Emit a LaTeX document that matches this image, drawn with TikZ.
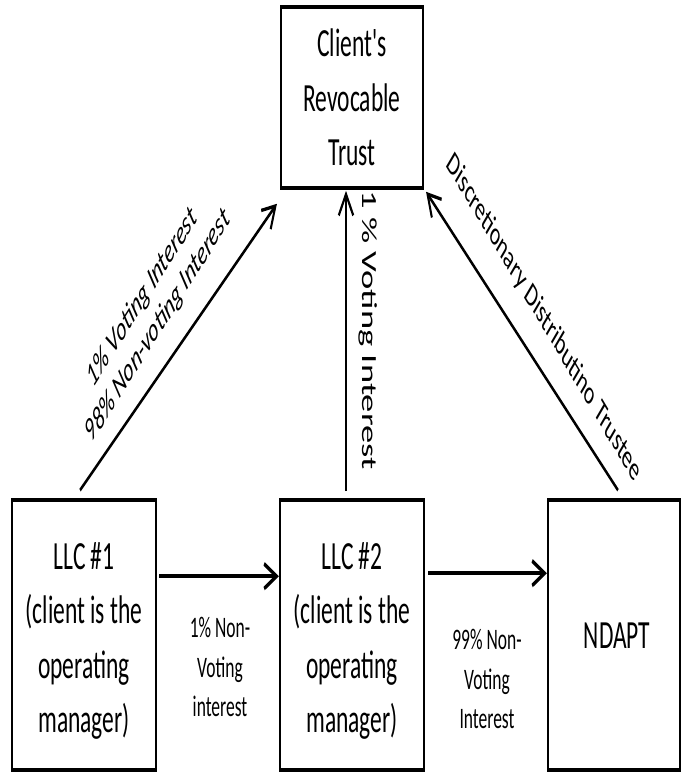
\documentclass[tikz,border=0pt]{standalone}
\usepackage{fontspec}
\newfontfamily\boxfont{Carlito}
\usetikzlibrary{arrows.meta,calc}
\tikzset{
  entity/.style={draw, line width=2.1pt, inner sep=0pt},
  boxtext/.style={align=center, inner sep=0pt, font=\boxfont\fontsize{23.5}{32}\selectfont},
  flow/.style={-{Straight Barb[length=12.5pt,width=14.5pt]}, line width=2.35pt},
  link/.style={-{Straight Barb[length=12.5pt,width=14.5pt]}, line width=2pt},
  note/.style={align=center, inner sep=0pt, font=\boxfont\fontsize{17.5}{23}\selectfont},
  slantnote/.style={align=center, inner sep=0pt, font=\boxfont\itshape\fontsize{19.5}{23}\selectfont},
  sidenote/.style={inner sep=0pt, font=\boxfont\fontsize{21.5}{26}\selectfont},
  trusteenote/.style={inner sep=0pt, font=\boxfont\fontsize{19.5}{24}\selectfont}
}
\begin{document}
\begin{tikzpicture}
\path[use as bounding box] (0pt,0pt) rectangle (681pt,-772pt);
% whole chart is drawn in a flattened frame and stretched vertically
\begin{scope}[x=1pt, y={(0pt,-0.588235pt)}, transform canvas={yscale=1.7}]
  % entities
  \node[entity, minimum width=142pt, minimum height={181pt/1.7}] (trust) at (352,97.5) {};
  \node[boxtext] (trusttext) at (trust.center) {Client's\\Revocable\\Trust};
  \node[entity, minimum width=144pt, minimum height={270pt/1.7}] (llc1) at (84,635) {};
  \node[boxtext] (llc1text) at ($(llc1.center)+(0,6)$) {LLC \#1\\(client is the\\operating\\manager)};
  \node[entity, minimum width=144pt, minimum height={270pt/1.7}] (llc2) at (352,635) {};
  \node[boxtext] (llc2text) at ($(llc2.center)+(0,6)$) {LLC \#2\\(client is the\\operating\\manager)};
  \node[entity, minimum width=132pt, minimum height={270pt/1.7}] (ndapt) at (614,635) {};
  \node[boxtext] (ndapttext) at ($(ndapt.center)+(3,1)$) {NDAPT};

  % ownership flows
  \draw[flow] ($(llc1.north east)+(2,78)$) -- ($(llc2.north west)+(0,78)$);
  \draw[flow] ($(llc2.north east)+(3,75)$) -- ($(ndapt.north west)+(0,75)$);
  \draw[link] ($(llc1.north)+(-4,-8)$) -- ($(trust.south west)+(-3,14)$);
  \draw[link] ($(llc2.north)+(-6,-7)$) -- ($(trust.south)+(-6,1)$);
  \draw[link] ($(ndapt.north)+(4,-8)$) -- ($(trust.south east)+(2,2)$);

  % labels
  \node[note] (n1) at (220,667) {1\% Non-\\Voting\\interest};
  \node[note] (n2) at (487,679) {99\% Non-\\Voting\\Interest};
  \node[slantnote, rotate=43.3] (n3) at (150,312) {1\% Voting Interest\\98\% Non-voting Interest};
  \node[sidenote, rotate=-90] (n4) at (368,330) {1 \% Voting Interest};
  \node[trusteenote, rotate=-44.7] (n5) at (544,318) {Discretionary Distributino Trustee};
\end{scope}
\end{tikzpicture}
\end{document}
